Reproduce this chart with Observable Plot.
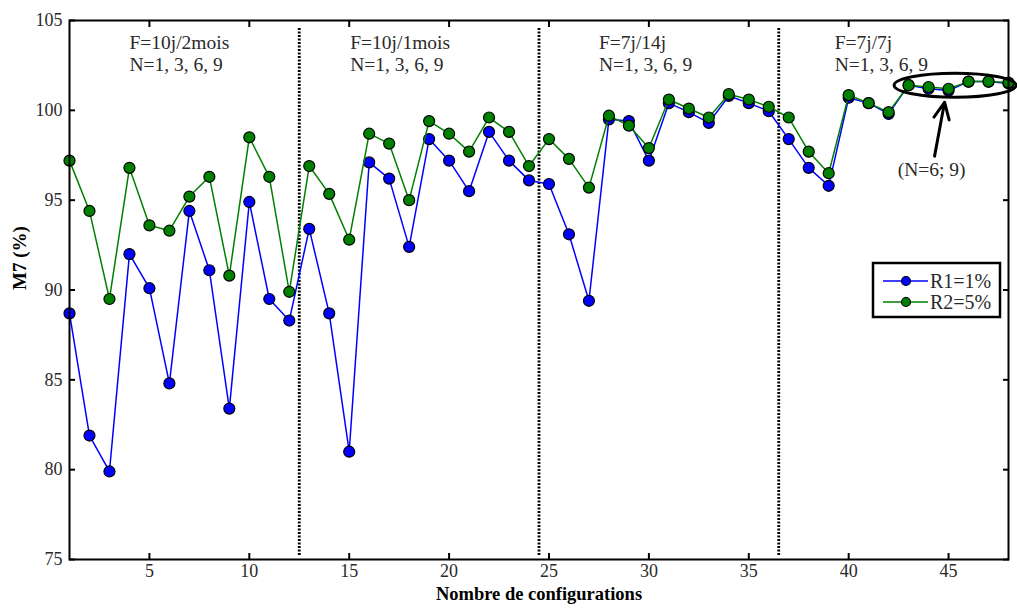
<!DOCTYPE html>
<html>
<head>
<meta charset="utf-8">
<script src="https://cdn.jsdelivr.net/npm/d3@7"></script>
<script src="https://cdn.jsdelivr.net/npm/@observablehq/plot@0.6"></script>
<style>
  html, body { margin: 0; padding: 0; background: #fff; }
  #chart { position: relative; width: 1017px; height: 608px; }
  #chart svg text { font-family: "Liberation Serif", "DejaVu Serif", serif; }
</style>
</head>
<body>
<div id="chart"></div>
<script>
// ---- data ----
const R1 = [88.7, 81.9, 79.9, 92.0, 90.1, 84.8, 94.4, 91.1, 83.4, 94.9,
            89.5, 88.3, 93.4, 88.7, 81.0, 97.1, 96.2, 92.4, 98.4, 97.2,
            95.5, 98.8, 97.2, 96.1, 95.9, 93.1, 89.4, 99.5, 99.4, 97.2,
            100.4, 99.9, 99.3, 100.8, 100.4, 99.95, 98.4, 96.8, 95.8, 100.7,
            100.4, 99.8, 101.4, 101.2, 101.1, 101.6, 101.6, 101.5];
const R2 = [97.2, 94.4, 89.5, 96.8, 93.6, 93.3, 95.2, 96.3, 90.8, 98.5,
            96.3, 89.9, 96.9, 95.35, 92.8, 98.7, 98.15, 95.0, 99.4, 98.7,
            97.7, 99.6, 98.8, 96.9, 98.4, 97.3, 95.7, 99.7, 99.15, 97.9,
            100.6, 100.1, 99.6, 100.9, 100.6, 100.2, 99.6, 97.7, 96.5, 100.85,
            100.4, 99.9, 101.4, 101.3, 101.2, 101.6, 101.6, 101.55];
const seriesNames = ["R1=1%", "R2=5%"];
const seriesColors = ["#0000ff", "#008000"];
const xTicks = [5, 10, 15, 20, 25, 30, 35, 40, 45];
const yTicks = [75, 80, 85, 90, 95, 100, 105];
const separators = [12.5, 24.5, 36.5];
const groupLabels = ["F=10j/2mois\nN=1, 3, 6, 9", "F=10j/1mois\nN=1, 3, 6, 9",
                     "F=7j/14j\nN=1, 3, 6, 9", "F=7j/7j\nN=1, 3, 6, 9"];
const groupLabelX = [4.0, 15.05, 27.5, 39.3];
const groupLabelY = 104.3;
const noteText = "(N=6; 9)";
const notePos = {x: 44.15, y: 96.7};
const arrowData = [{x1: 44.3, y1: 97.45, x2: 44.8, y2: 100.45}];
const ellipseSpec = {cx: 45.35, cy: 101.37, rx: 3.05, ry: 0.67};
const xLabel = "Nombre de configurations";
const yLabel = "M7 (%)";

const rows1 = R1.map((v, i) => ({config: i + 1, value: v}));
const rows2 = R2.map((v, i) => ({config: i + 1, value: v}));
const groups = groupLabels.map((t, i) => ({text: t, x: groupLabelX[i], y: groupLabelY}));

const font = '"Liberation Serif", "DejaVu Serif", serif';
const noLabel = () => "";

const plot = Plot.plot({
  width: 1017,
  height: 608,
  marginLeft: 69,
  marginRight: 9,
  marginTop: 20,
  marginBottom: 49,
  style: {fontFamily: font, fontSize: "18px", color: "#000", background: "#fff", overflow: "visible"},
  x: {domain: [1, 48]},
  y: {domain: [75, 105]},
  marks: [
    Plot.ruleX(separators, {y1: 104.55, y2: 75.2, stroke: "#000", strokeWidth: 2.8, strokeDasharray: "2,1.5"}),
    Plot.line(rows1, {x: "config", y: "value", stroke: seriesColors[0], strokeWidth: 1.5}),
    Plot.dot(rows1, {x: "config", y: "value", r: 5.5, fill: seriesColors[0], stroke: "#000", strokeWidth: 1.2}),
    Plot.line(rows2, {x: "config", y: "value", stroke: seriesColors[1], strokeWidth: 1.5}),
    Plot.dot(rows2, {x: "config", y: "value", r: 5.5, fill: seriesColors[1], stroke: "#000", strokeWidth: 1.2}),
    Plot.text(groups, {x: "x", y: "y", text: "text", textAnchor: "start", lineAnchor: "top",
      lineHeight: 1.15, fontSize: 19.5, fill: "#2a2a2a"}),
    Plot.text([noteText], {x: notePos.x, y: notePos.y, text: d => d, fontSize: 19.5, fill: "#2a2a2a"}),
    Plot.arrow(arrowData, {x1: "x1", y1: "y1", x2: "x2", y2: "y2", stroke: "#000", strokeWidth: 3, headLength: 14, headAngle: 50}),
    // tick labels
    Plot.axisX({anchor: "bottom", ticks: xTicks, tickSize: 0, tickPadding: 5, label: null, fontSize: 18, fill: "#2a2a2a"}),
    Plot.axisY({anchor: "left", ticks: yTicks, tickSize: 0, tickPadding: 7, label: null, fontSize: 18, fill: "#2a2a2a"}),
    // inward tick marks (shifted into the frame)
    Plot.axisX({anchor: "bottom", ticks: xTicks, tickSize: 6, dy: -6, strokeWidth: 2, tickFormat: noLabel, label: null}),
    Plot.axisX({anchor: "top", ticks: xTicks, tickSize: 6, dy: 6, strokeWidth: 2, tickFormat: noLabel, label: null}),
    Plot.axisY({anchor: "left", ticks: yTicks, tickSize: 6, dx: 6, strokeWidth: 2, tickFormat: noLabel, label: null}),
    Plot.axisY({anchor: "right", ticks: yTicks, tickSize: 6, dx: -6, strokeWidth: 2, tickFormat: noLabel, label: null}),
    Plot.frame({stroke: "#000", strokeWidth: 2}),
    Plot.text([xLabel], {frameAnchor: "bottom", dy: 40, text: d => d, fontWeight: "bold", fontSize: 18.5}),
    Plot.text([yLabel], {frameAnchor: "left", dx: -50, rotate: -90, text: d => d, fontWeight: "bold", fontSize: 19})
  ]
});

document.getElementById("chart").appendChild(plot);

// ---- overlays: ellipse and legend ----
const svg = d3.select(plot.tagName.toLowerCase() === "svg" ? plot : plot.querySelector("svg"));
const xs = plot.scale("x"), ys = plot.scale("y");
const ecx = xs.apply(ellipseSpec.cx), ecy = ys.apply(ellipseSpec.cy);
svg.append("ellipse")
  .attr("cx", ecx).attr("cy", ecy)
  .attr("rx", xs.apply(ellipseSpec.cx + ellipseSpec.rx) - ecx)
  .attr("ry", ecy - ys.apply(ellipseSpec.cy + ellipseSpec.ry))
  .attr("fill", "none").attr("stroke", "#000").attr("stroke-width", 3);

const lg = svg.append("g").attr("transform", "translate(873,263)");
lg.append("rect").attr("width", 127).attr("height", 54)
  .attr("fill", "#fff").attr("stroke", "#000").attr("stroke-width", 2.5);
seriesNames.forEach((name, i) => {
  const cy = 18 + i * 21;
  lg.append("line").attr("x1", 10).attr("x2", 55).attr("y1", cy).attr("y2", cy)
    .attr("stroke", seriesColors[i]).attr("stroke-width", 1.5);
  lg.append("circle").attr("cx", 33).attr("cy", cy).attr("r", 4.5)
    .attr("fill", seriesColors[i]).attr("stroke", "#000").attr("stroke-width", 1.2);
  lg.append("text").attr("x", 57).attr("y", cy).attr("dy", "0.35em")
    .attr("text-anchor", "start")
    .attr("font-family", font).attr("font-size", 20).attr("fill", "#2a2a2a").text(name);
});
</script>
</body>
</html>
